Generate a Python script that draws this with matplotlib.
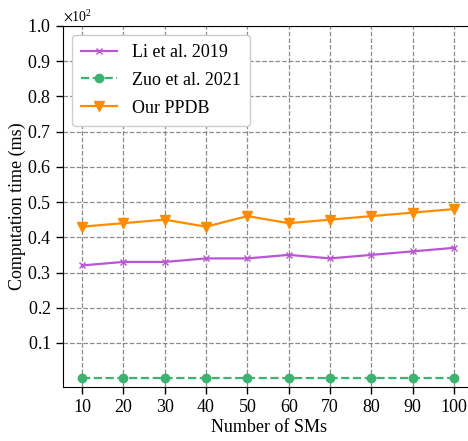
import matplotlib
matplotlib.use("Agg")
import matplotlib.pyplot as plt
from matplotlib.ticker import ScalarFormatter

plt.rcParams["font.family"] = ["Liberation Serif", "DejaVu Serif"]
plt.rcParams["mathtext.fontset"] = "stix"

# data (ms)
num_sms = [10, 20, 30, 40, 50, 60, 70, 80, 90, 100]
li_2019 = [32, 33, 33, 34, 34, 35, 34, 35, 36, 37]
zuo_2021 = [0.1, 0.1, 0.1, 0.1, 0.1, 0.1, 0.1, 0.1, 0.1, 0.1]
our_ppdb = [43, 44, 45, 43, 46, 44, 45, 46, 47, 48]
y_ticks = [10, 20, 30, 40, 50, 60, 70, 80, 90, 100]

fig = plt.figure(figsize=(4.68, 4.41), dpi=100)
ax = fig.add_axes([0.1346, 0.1224, 0.880, 0.819])

ax.plot(num_sms, li_2019, color="#BA55D3", marker="x", markersize=5,
        linewidth=1.6, label="Li et al. 2019")
ax.plot(num_sms, zuo_2021, color="#3CB371", marker="o", markersize=6,
        linewidth=1.6, linestyle="--", label="Zuo et al. 2021")
ax.plot(num_sms, our_ppdb, color="#FF8C00", marker="v", markersize=6.5,
        linewidth=1.6, label="Our PPDB")

ax.set_xlim(5.4, 105)
ax.set_ylim(-2.5, 100)
ax.set_xticks(num_sms)
ax.set_yticks(y_ticks)

fmt = ScalarFormatter(useMathText=True)
fmt.set_powerlimits((0, 0))
ax.yaxis.set_major_formatter(fmt)
ax.yaxis.get_offset_text().set_fontsize(10)

ax.grid(True, linestyle="--", color="gray", linewidth=0.9, alpha=0.9)
ax.tick_params(labelsize=13, length=5, width=1)
ax.set_xlabel("Number of SMs", fontsize=13, labelpad=2)
ax.set_ylabel("Computation time (ms)", fontsize=13, labelpad=1)

ax.legend(loc="upper left", fontsize=13, framealpha=1, edgecolor="#cccccc",
          handlelength=2.0, borderpad=0.5, labelspacing=0.6)

fig.savefig("out.png", dpi=100)
